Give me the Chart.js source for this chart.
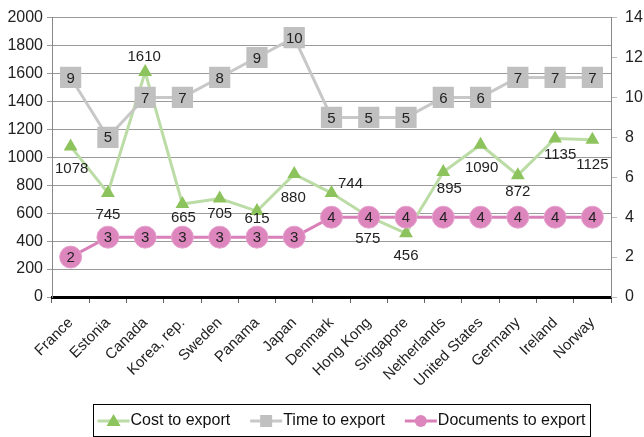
<!DOCTYPE html>
<html><head><meta charset="utf-8">
<script src="https://cdn.jsdelivr.net/npm/chart.js@4"></script>
<style>html,body{margin:0;padding:0;background:#fff;}#wrap{width:644px;height:437px;}</style>
</head><body><div id="wrap"><canvas id="c" width="644" height="437"></canvas></div>
<script>
const categories = ["France","Estonia","Canada","Korea, rep.","Sweden","Panama","Japan","Denmark","Hong Kong","Singapore","Netherlands","United States","Germany","Ireland","Norway"];
const costToExport = [1078,745,1610,665,705,615,880,744,575,456,895,1090,872,1135,1125];
const timeToExport = [11,8,10,10,11,12,13,9,9,9,10,10,11,11,11];
const timeLabels = [9,5,7,7,8,9,10,5,5,5,6,6,7,7,7];
const documentsToExport = [2,3,3,3,3,3,3,4,4,4,4,4,4,4,4];
const leftTicks = [0,200,400,600,800,1000,1200,1400,1600,1800,2000];
const rightTicks = [0,2,4,6,8,10,12,14];
const seriesNames = ["Cost to export","Time to export","Documents to export"];

// style: label offsets (dx, dy) for cost labels
const costLabelOffsets = [[1,22],[0,22],[-1,-15],[1,14],[0,15],[0,8],[-1,24],[19,-9],[-1,22],[0,23],[6,17],[1,23],[0,17],[5,16],[0,25]];

const FONT = '"Liberation Sans", Arial, Helvetica, sans-serif';
const COL = {
  costLine:'#bcdca6', costPt:'#8dc35c',
  timeLine:'#c8c8c8', timePt:'#c0c0c0',
  docLine:'#d980b8', docPt:'#dc86bd'
};

const valueLabels = {
  id:'valueLabels',
  afterDatasetsDraw(chart){
    const ctx = chart.ctx;
    ctx.save();
    ctx.font = '15px ' + FONT;
    ctx.fillStyle = '#222';
    ctx.textAlign = 'center';
    ctx.textBaseline = 'middle';
    chart.data.datasets.forEach((ds,i)=>{
      const meta = chart.getDatasetMeta(i);
      meta.data.forEach((pt,j)=>{
        let txt, dx=0, dy=1;
        if(ds.key==='cost'){ txt=String(costToExport[j]); dx=costLabelOffsets[j][0]; dy=costLabelOffsets[j][1]; }
        else if(ds.key==='time'){ txt=String(timeLabels[j]); }
        else { txt=String(documentsToExport[j]); }
        ctx.fillText(txt, pt.x+dx, pt.y+dy);
      });
    });
    ctx.restore();
  }
};

const boxLegend = {
  id:'boxLegend',
  afterDraw(chart){
    const ctx = chart.ctx;
    ctx.save();
    ctx.font = '16px ' + FONT;
    const items = [
      {t:seriesNames[0], line:COL.costLine, pt:COL.costPt, s:'tri'},
      {t:seriesNames[1], line:COL.timeLine, pt:COL.timePt, s:'sq'},
      {t:seriesNames[2], line:COL.docLine, pt:COL.docPt, s:'circ'}
    ];
    const seg = 32, gapAfterSeg = 1, gapItems = 20;
    let total = 0;
    items.forEach(it=>{ it.w = ctx.measureText(it.t).width; total += seg + gapAfterSeg + it.w; });
    total += gapItems*(items.length-1);
    const boxX = 93, boxY = 404, boxW = 497, boxH = 32;
    ctx.strokeStyle = '#000'; ctx.lineWidth = 1;
    ctx.strokeRect(boxX+0.5, boxY+0.5, boxW, boxH);
    let x = boxX + (boxW - total)/2;
    const cy = boxY + boxH/2 + 1;
    items.forEach(it=>{
      ctx.strokeStyle = it.line; ctx.lineWidth = 3;
      ctx.beginPath(); ctx.moveTo(x, cy); ctx.lineTo(x+seg, cy); ctx.stroke();
      const mx = x + seg/2;
      ctx.fillStyle = it.pt;
      ctx.beginPath();
      if(it.s==='tri'){ ctx.moveTo(mx, cy-7); ctx.lineTo(mx+7, cy+5); ctx.lineTo(mx-7, cy+5); ctx.closePath(); }
      else if(it.s==='sq'){ ctx.rect(mx-6, cy-6, 12, 12); }
      else { ctx.arc(mx, cy, 6, 0, Math.PI*2); }
      ctx.fill();
      x += seg + gapAfterSeg;
      ctx.fillStyle = '#111'; ctx.textAlign='left'; ctx.textBaseline='middle';
      ctx.fillText(it.t, x, cy);
      x += it.w + gapItems;
    });
    ctx.restore();
  }
};

new Chart(document.getElementById('c'), {
  type:'line',
  data:{
    labels:categories,
    datasets:[
      {key:'cost', label:seriesNames[0], data:costToExport, yAxisID:'y', order:2,
       borderColor:COL.costLine, borderWidth:3, backgroundColor:COL.costPt,
       pointStyle:'triangle', pointRadius:8, pointBorderWidth:0, pointBorderColor:COL.costPt, tension:0},
      {key:'time', label:seriesNames[1], data:timeToExport, yAxisID:'y1', order:1,
       borderColor:COL.timeLine, borderWidth:3, backgroundColor:COL.timePt,
       pointStyle:'rect', pointRadius:15, pointBorderWidth:0, pointBorderColor:COL.timePt, tension:0},
      {key:'docs', label:seriesNames[2], data:documentsToExport, yAxisID:'y1', order:0,
       borderColor:COL.docLine, borderWidth:3, backgroundColor:COL.docPt,
       pointStyle:'circle', pointRadius:11, pointBorderWidth:1, pointBorderColor:'#e7a3cf', tension:0}
    ]
  },
  options:{
    responsive:false, animation:false, devicePixelRatio:1,
    layout:{padding:{top:6,left:0,right:0,bottom:0}},
    plugins:{legend:{display:false}, tooltip:{enabled:false}},
    scales:{
      x:{offset:true,
         grid:{offset:true, drawOnChartArea:false, drawTicks:true, tickLength:6, color:'#666'},
         border:{color:'#000', width:3},
         ticks:{minRotation:45, maxRotation:45, autoSkip:false, font:{family:FONT, size:15}, color:'#222', padding:11},
         afterFit(s){ s.height = 140; }},
      y:{position:'left', min:leftTicks[0], max:leftTicks[leftTicks.length-1],
         afterBuildTicks(s){ s.ticks = leftTicks.map(v=>({value:v})); },
         ticks:{font:{family:FONT, size:16}, color:'#222', padding:4, callback:(v)=>String(v)},
         grid:{color:'#9a9a9a', tickLength:5},
         border:{color:'#888'},
         afterFit(s){ s.width = 52; }},
      y1:{position:'right', min:rightTicks[0], max:rightTicks[rightTicks.length-1],
         afterBuildTicks(s){ s.ticks = rightTicks.map(v=>({value:v})); },
         ticks:{font:{family:FONT, size:16}, color:'#222', padding:8, callback:(v)=>String(v)},
         grid:{drawOnChartArea:false, tickLength:6, color:'#bbb'},
         border:{color:'#888'},
         afterFit(s){ s.width = 33; }}
    }
  },
  plugins:[valueLabels, boxLegend]
});
</script></body></html>
